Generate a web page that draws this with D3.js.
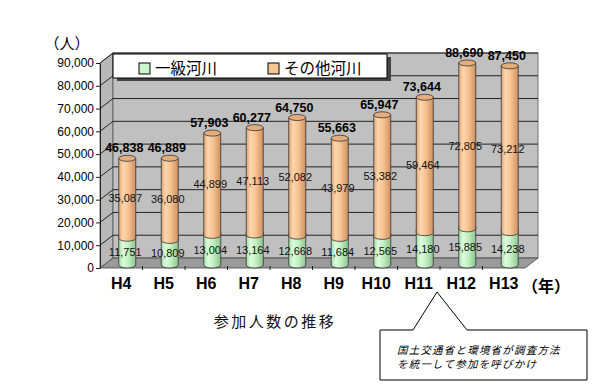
<!DOCTYPE html>
<html><head><meta charset="utf-8">
<script src="https://cdn.jsdelivr.net/npm/d3@7"></script>
<style>
html,body{margin:0;padding:0;background:#fff;}
svg{display:block;}
</style>
</head><body>
<svg id="c" width="600" height="385"></svg>
<script>
const categories = ["H4","H5","H6","H7","H8","H9","H10","H11","H12","H13"];
const firstClass = [11751,10809,13004,13164,12668,11684,12565,14180,15885,14238];
const otherRivers = [35087,36080,44899,47113,52082,43979,53382,59464,72805,73212];
const totals = [46838,46889,57903,60277,64750,55663,65947,73644,88690,87450];
const yTicks = [0,10000,20000,30000,40000,50000,60000,70000,80000,90000];
const seriesNames = ["一級河川","その他河川"];
const yUnit = "（人）";
const xUnit = "（年）";
const title = "参加人数の推移";
const noteLines = ["国土交通省と環境省が調査方法","を統一して参加を呼びかけ"];

const svg = d3.select("#c");
const fmt = d3.format(",");
const jp = "'Noto Sans CJK JP','Noto Sans',sans-serif";
const lat = "'Liberation Sans',Arial,sans-serif";

const x = d3.scaleBand().domain(categories).range([100, 525]).padding(0);
const y = d3.scaleLinear().domain([0, 90000]).range([268, 63]);
const DX = 13, DY = -10;     // depth of back wall
const BX = 6, BY = -3;       // bar plane offset

// gradients
const defs = svg.append("defs");
function grad(id, stops){
  const g = defs.append("linearGradient").attr("id", id).attr("x1","0").attr("x2","1").attr("y1","0").attr("y2","0");
  stops.forEach(s => g.append("stop").attr("offset", s[0]).attr("stop-color", s[1]));
}
grad("gOr", [[0,"#e2a474"],[0.25,"#fcd6ae"],[0.55,"#f7c391"],[1,"#cf9062"]]);
grad("gGr", [[0,"#a6dca6"],[0.25,"#dcfcdc"],[0.55,"#c4f0c4"],[1,"#8fc48f"]]);

const x0 = x.range()[0], x1 = x.range()[1];
const yTop = y(90000), yBot = y(0);

// left wall
svg.append("path")
  .attr("d", `M${x0},${yTop} L${x0+DX},${yTop+DY} L${x0+DX},${yBot+DY} L${x0},${yBot} Z`)
  .attr("fill", "#b8b8b8").attr("stroke", "#555").attr("stroke-width", 0.8);
// back wall
svg.append("rect")
  .attr("x", x0+DX).attr("y", yTop+DY).attr("width", x1-x0).attr("height", yBot-yTop)
  .attr("fill", "#c0c0c0").attr("stroke", "#555").attr("stroke-width", 0.8);
// floor
svg.append("path")
  .attr("d", `M${x0},${yBot} L${x0+DX},${yBot+DY} L${x1+DX},${yBot+DY} L${x1},${yBot} Z`)
  .attr("fill", "#9a9a9a").attr("stroke", "#444").attr("stroke-width", 0.8);

// gridlines
const grid = svg.append("g").attr("stroke", "#222").attr("stroke-width", 1).attr("fill", "none");
yTicks.filter(v => v > 0).forEach(v => {
  grid.append("path").attr("d", `M${x0},${y(v)} L${x0+DX},${y(v)+DY} L${x1+DX},${y(v)+DY}`);
});

// y axis
const yAxis = svg.append("g").attr("transform", `translate(${x0},0)`)
  .call(d3.axisLeft(y).tickValues(yTicks).tickFormat(fmt).tickSize(4).tickSizeOuter(0).tickPadding(2));
yAxis.select(".domain").attr("stroke", "#222");
yAxis.selectAll(".tick line").attr("stroke", "#222");
yAxis.selectAll("text").attr("font-family", lat).attr("font-size", 12).attr("fill", "#000");

// floor ticks
svg.append("g").selectAll("line").data(categories.slice(1)).join("line")
  .attr("x1", d => x(d)).attr("x2", d => x(d))
  .attr("y1", yBot - 2).attr("y2", yBot + 2)
  .attr("stroke", "#222");

// x axis labels
const xAxis = svg.append("g").attr("transform", `translate(0,${yBot})`)
  .call(d3.axisBottom(x).tickSize(0).tickPadding(10));
xAxis.select(".domain").remove();
xAxis.selectAll("text").attr("font-family", lat).attr("font-size", 16).attr("font-weight", "bold").attr("fill", "#000");

// bars (cylinders)
const r = 8.5, ry = 3;
const yb = v => y(v) + BY;
const bars = svg.append("g").selectAll("g").data(categories).join("g");
bars.each(function(c, i){
  const g = d3.select(this);
  const cx = x(c) + x.bandwidth()/2 + BX;
  const y0 = yb(0), yg = yb(firstClass[i]), yt = yb(totals[i]);
  g.append("path")
    .attr("d", `M${cx-r},${yg-ry} L${cx-r},${y0} A${r},${ry} 0 0 0 ${cx+r},${y0} L${cx+r},${yg-ry} Z`)
    .attr("fill", "url(#gGr)").attr("stroke", "#333").attr("stroke-width", 0.8);
  g.append("path")
    .attr("d", `M${cx-r},${yt} L${cx-r},${yg} A${r},${ry} 0 0 0 ${cx+r},${yg} L${cx+r},${yt} Z`)
    .attr("fill", "url(#gOr)").attr("stroke", "#333").attr("stroke-width", 0.8);
  g.append("ellipse").attr("cx", cx).attr("cy", yt).attr("rx", r).attr("ry", ry)
    .attr("fill", "#e6ad7c").attr("stroke", "#333").attr("stroke-width", 0.8);
  g.append("text").attr("x", cx - 2).attr("y", (y0 + yg)/2 + 4)
    .attr("text-anchor", "middle").attr("font-family", lat).attr("font-size", 11).attr("fill", "#111")
    .text(fmt(firstClass[i]));
  g.append("text").attr("x", cx - 2).attr("y", (yg + yt)/2 + 4)
    .attr("text-anchor", "middle").attr("font-family", lat).attr("font-size", 11).attr("fill", "#111")
    .text(fmt(otherRivers[i]));
  g.append("text").attr("x", cx - 3).attr("y", yt - 6)
    .attr("text-anchor", "middle").attr("font-family", lat).attr("font-size", 12.5).attr("font-weight", "bold").attr("fill", "#000")
    .text(fmt(totals[i]));
});

// legend
const lg = svg.append("g");
lg.append("rect").attr("x", 117).attr("y", 57).attr("width", 274).attr("height", 24).attr("fill", "#444");
lg.append("rect").attr("x", 113).attr("y", 54).attr("width", 274).attr("height", 24).attr("fill", "#fff").attr("stroke", "#000").attr("stroke-width", 1);
const legendColors = ["#ccf7cc", "#f7c697"];
const legendX = [139, 268];
seriesNames.forEach((n, i) => {
  lg.append("rect").attr("x", legendX[i]).attr("y", 63).attr("width", 11).attr("height", 11)
    .attr("fill", legendColors[i]).attr("stroke", "#000").attr("stroke-width", 1);
  lg.append("text").attr("x", legendX[i] + 16).attr("y", 74)
    .attr("font-family", jp).attr("font-size", 15.5).attr("fill", "#000").text(n);
});

// units
svg.append("text").attr("x", 67).attr("y", 49).attr("text-anchor", "middle")
  .attr("font-family", jp).attr("font-size", 15).attr("fill", "#000").text(yUnit);
svg.append("text").attr("x", 546).attr("y", 292).attr("text-anchor", "middle")
  .attr("font-family", jp).attr("font-size", 16).attr("font-weight", "bold").attr("fill", "#000").text(xUnit);

// title
svg.append("text").attr("x", 275).attr("y", 327).attr("text-anchor", "middle")
  .attr("font-family", jp).attr("font-size", 15).attr("letter-spacing", 2.5).attr("fill", "#111").text(title);

// callout
svg.append("path")
  .attr("d", "M380,330 L413,330 L437,292 L467,330 L587,330 L587,380 L380,380 Z")
  .attr("fill", "#fff").attr("stroke", "#000").attr("stroke-width", 1);
noteLines.forEach((t, i) => {
  svg.append("text").attr("x", 397).attr("y", 354 + i*13.5)
    .attr("font-family", jp).attr("font-size", 10.5).attr("font-style", "italic").attr("letter-spacing", 1.2)
    .attr("fill", "#000").text(t);
});
</script>
</body></html>
